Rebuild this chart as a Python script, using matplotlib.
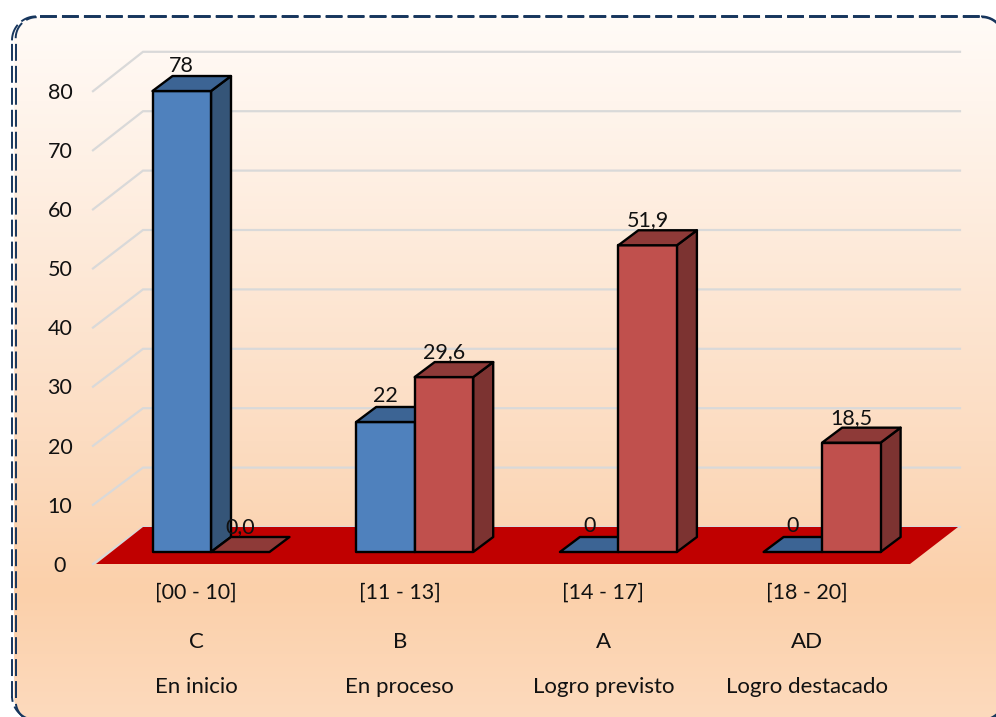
import numpy as np
import matplotlib
matplotlib.use("Agg")
import matplotlib.pyplot as plt
from matplotlib.patches import Polygon

plt.rcParams['font.family'] = ['Lato', 'DejaVu Sans']

rangos = ["[00 - 10]", "[11 - 13]", "[14 - 17]", "[18 - 20]"]
letras = ["C", "B", "A", "AD"]
niveles = ["En inicio", "En proceso", "Logro previsto", "Logro destacado"]
serie_azul = [78, 22, 0, 0]
serie_roja = [0.0, 29.6, 51.9, 18.5]
etiq_azul = ["78", "22", "0", "0"]
etiq_roja = ["0,0", "29,6", "51,9", "18,5"]
ticks_y = [0, 10, 20, 30, 40, 50, 60, 70, 80]

W, H = 996, 717


def arco(cx, cy, r, ini):
    t = np.radians(np.linspace(ini, ini + 90, 25))
    return cx + r * np.cos(t), cy + r * np.sin(t)


def borde(x0, y0, x1, y1, r):
    # dashed pieces of a rounded box, in pixels, y grows downwards
    est = dict(color='#17365d', lw=1.4, ls=(0, (8.7, 2.6)), zorder=2)
    bg.plot([x0, x0], [698, 42], **est)
    bg.plot([40, 983], [y0, y0], **est)
    for cx, cy, ini in [(x0 + r, y0 + r, 180), (x1 - r, y0 + r, 270), (x1 - r, y1 - r, 0), (x0 + r, y1 - r, 90)]:
        bg.plot(*arco(cx, cy, r, ini), **est)


fig = plt.figure(figsize=(W / 100, H / 100), dpi=100, facecolor='white')

#------background and border, in pixels------
bg = fig.add_axes([0, 0, 1, 1])
stops_y = [17, 100, 440, 590, 717]
stops_c = [(255, 251, 247), (255, 245, 237), (252, 220, 193), (251, 208, 170), (253, 218, 189)]
grad = np.array([np.interp(np.arange(H), stops_y, [c[k] for c in stops_c]) for k in range(3)]).T / 255
img = bg.imshow(grad[:, None, :], extent=(0, W, H, 0), aspect='auto', zorder=0)
bg.set_xlim(0, W)
bg.set_ylim(H, 0)
bg.axis('off')
r_fondo = 23
puntos = [arco(14 + r_fondo, 17 + r_fondo, r_fondo, 180), arco(1005 - r_fondo, 17 + r_fondo, r_fondo, 270),
          arco(1005 - r_fondo, 720 - r_fondo, r_fondo, 0), arco(14 + r_fondo, 720 - r_fondo, r_fondo, 90)]
marco = Polygon(np.column_stack([np.concatenate([p[0] for p in puntos]), np.concatenate([p[1] for p in puntos])]),
                fc='none', ec='none')
bg.add_patch(marco)
img.set_clip_path(marco)
borde(12, 16.4, 1005, 720, 24)
borde(15.7, 17.2, 1003, 722, 21)

#------chart, x in categories and y in chart values------
px_cat = 203.7
px_val = 5.91
ax = fig.add_axes([0, 0, 1, 1])
ax.patch.set_alpha(0)
ax.set_xlim((0 - 211) / px_cat, (W - 211) / px_cat)
ax.set_ylim((552 - H) / px_val, 552 / px_val)
ax.axis('off')

ancho = 58.5 / px_cat
dx = 20 / px_cat
dy = 15 / px_val
suelo_frente = -12 / px_val
suelo_fondo = 25 / px_val
x_izq = (93 - 211) / px_cat
x_fondo = (143 - 211) / px_cat
x_der = (960 - 211) / px_cat
escala_fondo = 5.94 / px_val

for v in ticks_y:
    ax.plot([x_izq, x_fondo, x_der], [v + suelo_frente, v * escala_fondo + suelo_fondo, v * escala_fondo + suelo_fondo],
            color='#d9d9d9', lw=1.6, zorder=1, solid_joinstyle='miter')
    ax.text((60 - 211) / px_cat, v + suelo_frente - 0.3, str(v), ha='center', va='center', fontsize=15.5, color='#111111')

ax.add_patch(Polygon([((96 - 211) / px_cat, suelo_frente), (x_fondo, suelo_fondo),
                      ((958 - 211) / px_cat, suelo_fondo), ((910 - 211) / px_cat, suelo_frente)],
                     fc='#c00000', ec='none', zorder=2))


def barra(x0, v, c_frente, c_lado, c_tapa, z):
    x1 = x0 + ancho
    est = dict(ec='black', lw=1.7, joinstyle='round', zorder=z)
    if v > 0:
        ax.add_patch(Polygon([(x1, 0), (x1 + dx, dy), (x1 + dx, v + dy), (x1, v)], fc=c_lado, **est))
        ax.add_patch(Polygon([(x0, 0), (x1, 0), (x1, v), (x0, v)], fc=c_frente, **est))
    ax.add_patch(Polygon([(x0, v), (x1, v), (x1 + dx, v + dy), (x0 + dx, v + dy)], fc=c_tapa, **est))


for i in range(len(rangos)):
    z = 3 + i
    barra(i - ancho, serie_azul[i], '#4f81bd', '#355578', '#3c6494', z)
    barra(i, serie_roja[i], '#c0504d', '#7c3331', '#8e3a38', z + 0.5)
    ax.text(i - ancho / 2, serie_azul[i] + 25.5 / px_val, etiq_azul[i], ha='center', va='center',
            fontsize=15.5, color='#111111', zorder=10)
    ax.text(i + ancho / 2, serie_roja[i] + 25 / px_val, etiq_roja[i], ha='center', va='center',
            fontsize=15.5, color='#111111', zorder=10)
    xc = i - 15 / px_cat
    ax.text(xc, (552 - 593) / px_val, rangos[i], ha='center', va='center', fontsize=15.5, color='#111111')
    ax.text(xc, (552 - 642) / px_val, letras[i], ha='center', va='center', fontsize=16, color='#111111')
    ax.text(xc, (552 - 687) / px_val, niveles[i], ha='center', va='center', fontsize=16, color='#111111')

fig.savefig('out.png', dpi=100)
